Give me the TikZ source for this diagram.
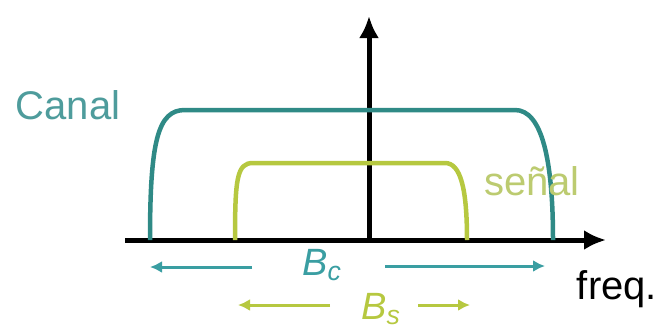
\documentclass[tikz,border=0pt]{standalone}
\usepackage{fontspec}
\setmainfont{Liberation Sans}
\usepackage{tikz}
\usetikzlibrary{arrows.meta,positioning}
\usepackage{xcolor}
\definecolor{canalteal}{HTML}{2F8A86}
\definecolor{canaltext}{HTML}{4E9C9C}
\definecolor{bwteal}{HTML}{3A9EA2}
\definecolor{senalgreen}{HTML}{B6C840}
\definecolor{senaltext}{HTML}{BCCB70}

\begin{document}
\begin{tikzpicture}[x=1pt, y=-1pt, >=Latex,
  lbl/.style={font=\fontsize{40}{44}\selectfont, inner sep=0pt},
  bw/.style={line width=3pt, -{Latex[length=12pt,width=12pt]}}]
  \useasboundingbox (0,0) rectangle (661,330);
  % axes
  \coordinate (O) at (369,240);
  \coordinate (xS) at (125,240);
  \coordinate (xE) at (606,240);
  \coordinate (yE) at (369,16);
  \draw[line width=5pt, -{Latex[length=22pt,width=20pt]}] (xS) -- (xE);
  \draw[line width=5pt, -{Latex[length=22pt,width=20pt]}] (O) -- (yE);
  % channel and signal spectra
  \draw[canalteal, line width=4.5pt] (150,240) .. controls (150,140) and (158,110) .. (185,110)
    -- (515,110) .. controls (542,110) and (553,160) .. (553,240);
  \draw[senalgreen, line width=4.5pt] (235,240) .. controls (235,178) and (237,163) .. (253,163)
    -- (445,163) .. controls (461,163) and (467,190) .. (467,240);
  % labels
  \node[lbl, text=canaltext] (canal) at (68,105) {Canal};
  \node[lbl, text=senaltext] (senal) at (532,181) {señal};
  \node[lbl] (freq) at (617,289) {freq.};
  \node[lbl, text=bwteal, font=\fontsize{38}{42}\itshape, anchor=west] (bc) at (302,265) {B\textsubscript{c}};
  \node[lbl, text=senalgreen, font=\fontsize{38}{42}\itshape, anchor=west] (bs) at (361,309) {B\textsubscript{s}};
  % bandwidth arrows
  \coordinate (bcL) at (150,267);
  \coordinate (bcR) at (545,266);
  \coordinate (bsL) at (238,305);
  \coordinate (bsR) at (470,305);
  \draw[bw, bwteal] (252,267) -- (bcL);
  \draw[bw, bwteal] (385,266) -- (bcR);
  \draw[bw, senalgreen] (330,305) -- (bsL);
  \draw[bw, senalgreen] (418,305) -- (bsR);
\end{tikzpicture}
\end{document}
